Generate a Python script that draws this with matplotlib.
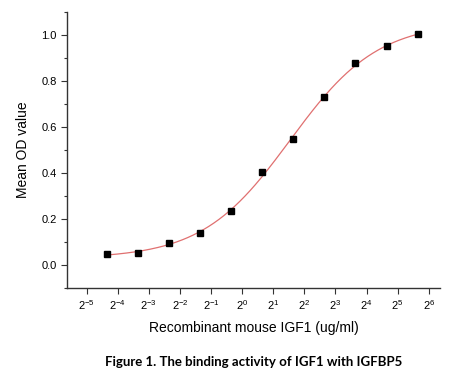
import numpy as np
import matplotlib
matplotlib.use("Agg")
import matplotlib.pyplot as plt
from matplotlib.ticker import FixedLocator, MultipleLocator

plt.rcParams['font.family'] = ['Liberation Sans', 'DejaVu Sans']
plt.rcParams['axes.unicode_minus'] = False

# twofold dilution series (ug/ml) and mean OD readings
conc = 50 / 2.0 ** np.arange(10, -1, -1)
od = np.array([0.047, 0.054, 0.096, 0.139, 0.233, 0.404, 0.547, 0.730, 0.878, 0.950, 1.002])

tick_pows = np.arange(-5, 7)

# 4-parameter logistic fit: grid over (ec50, hill), linear solve for bottom/top
lx = np.log2(conc)
best = None
for c in np.linspace(0.5, 3.0, 126):
    for h in np.linspace(0.3, 2.0, 171):
        g = 1 / (1 + 2 ** (h * (c - lx)))
        M = np.column_stack([1 - g, g])
        coef, *_ = np.linalg.lstsq(M, od, rcond=None)
        err = np.sum((M @ coef - od) ** 2)
        if best is None or err < best[0]:
            best = (err, c, h, coef)
_, c, h, (bot, top) = best
xf = np.linspace(lx.min(), lx.max(), 300)
yf = bot + (top - bot) / (1 + 2 ** (h * (c - xf)))

fig = plt.figure(figsize=(4.69, 3.84), dpi=100)
ax = fig.add_axes([0.143, 0.25, 0.795, 0.719])

ax.plot(2 ** xf, yf, color='#e07070', lw=0.9, zorder=2)
ax.plot(conc, od, 's', color='black', ms=5, zorder=3)

ax.set_xscale('log', base=2)
ax.set_xlim(2 ** -5.63, 2 ** 6.36)
ax.set_ylim(-0.1, 1.1)
ax.xaxis.set_major_locator(FixedLocator(2.0 ** tick_pows))
ax.xaxis.set_minor_locator(FixedLocator([]))
ax.set_xticklabels([r'$\mathregular{2^{%d}}$' % p for p in tick_pows])
ax.yaxis.set_major_locator(MultipleLocator(0.2))
ax.yaxis.set_minor_locator(MultipleLocator(0.1))
ax.yaxis.set_major_formatter(matplotlib.ticker.FormatStrFormatter('%.1f'))

for s in ['top', 'right']:
    ax.spines[s].set_visible(False)
for s in ['left', 'bottom']:
    ax.spines[s].set_color('#333333')
    ax.spines[s].set_linewidth(1.0)
ax.tick_params(which='major', direction='out', length=4, width=0.8, labelsize=8, color='#333333')
ax.tick_params(which='minor', direction='out', length=2.5, width=0.8, color='#333333')

ax.set_xlabel('Recombinant mouse IGF1 (ug/ml)', fontsize=10, labelpad=6)
ax.set_ylabel('Mean OD value', fontsize=10, labelpad=8)

fig.text(0.54, 0.058, 'Figure 1. The binding activity of IGF1 with IGFBP5',
         ha='center', va='center', fontsize=9.5, fontweight='bold', family='Lato')

fig.savefig('out.png', dpi=100)
